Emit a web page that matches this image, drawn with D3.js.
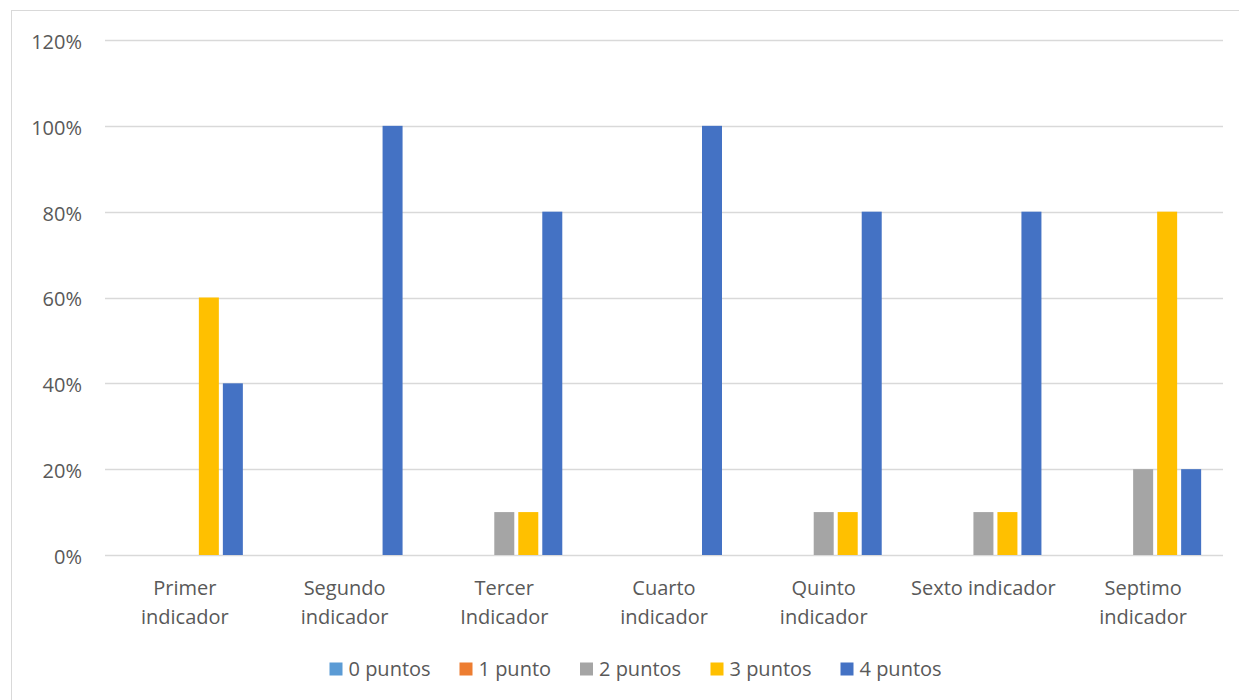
<!DOCTYPE html>
<html>
<head>
<meta charset="utf-8">
<script src="https://cdnjs.cloudflare.com/ajax/libs/d3/7.8.5/d3.min.js"></script>
<style>
  html, body { margin: 0; padding: 0; background: #fff; }
  svg { display: block; }
  text { font-family: "Open Sans", "Noto Sans", sans-serif; fill: #595959; }
</style>
</head>
<body>
<div id="chart"></div>
<script>
// Indicator categories (two-line labels split on "\n")
const categories = [
  "Primer\nindicador",
  "Segundo\nindicador",
  "Tercer\nIndicador",
  "Cuarto\nindicador",
  "Quinto\nindicador",
  "Sexto indicador",
  "Septimo\nindicador"
];

// Series names and their share of each indicator (fractions)
const seriesNames = ["0 puntos", "1 punto", "2 puntos", "3 puntos", "4 puntos"];
const puntos0 = [0, 0, 0, 0, 0, 0, 0];
const puntos1 = [0, 0, 0, 0, 0, 0, 0];
const puntos2 = [0, 0, 0.10, 0, 0.10, 0.10, 0.20];
const puntos3 = [0.60, 0, 0.10, 0, 0.10, 0.10, 0.80];
const puntos4 = [0.40, 1.00, 0.80, 1.00, 0.80, 0.80, 0.20];
const seriesValues = [puntos0, puntos1, puntos2, puntos3, puntos4];
const seriesColors = ["#5B9BD5", "#ED7D31", "#A5A5A5", "#FFC000", "#4472C4"];

const yTicks = [0, 0.2, 0.4, 0.6, 0.8, 1.0, 1.2];

const W = 1239, H = 700;
const plot = { left: 105, right: 1223, top: 40, bottom: 555 };
const fontSize = "20px";

const svg = d3.select("#chart").append("svg")
  .attr("width", W).attr("height", H);

// Chart frame
svg.append("rect")
  .attr("x", 11.5).attr("y", 10.5)
  .attr("width", W + 10).attr("height", H + 10)
  .attr("fill", "#fff").attr("stroke", "#D9D9D9").attr("stroke-width", 1);

const x0 = d3.scaleBand()
  .domain(categories)
  .range([plot.left, plot.right])
  .paddingInner(0).paddingOuter(0);

const groupWidth = 120;
const x1 = d3.scaleBand()
  .domain(seriesNames)
  .range([-groupWidth / 2, groupWidth / 2])
  .paddingInner(1 / 6).paddingOuter(1 / 12);

const y = d3.scaleLinear().domain([0, 1.2]).range([plot.bottom, plot.top]);

// Horizontal gridlines
svg.append("g")
  .selectAll("line")
  .data(yTicks)
  .join("line")
  .attr("x1", plot.left).attr("x2", plot.right)
  .attr("y1", d => Math.round(y(d)) + 0.5).attr("y2", d => Math.round(y(d)) + 0.5)
  .attr("stroke", "#D9D9D9").attr("stroke-width", 1.3);

// Y axis labels
const yAxis = d3.axisLeft(y)
  .tickValues(yTicks)
  .tickFormat(d3.format(".0%"))
  .tickSize(0).tickPadding(0);
const yG = svg.append("g")
  .attr("transform", `translate(82,0)`)
  .call(yAxis);
yG.select(".domain").remove();
yG.selectAll("text")
  .style("font-family", "'Open Sans', 'Noto Sans', sans-serif")
  .style("font-size", fontSize)
  .attr("dy", "0.42em")
  .attr("fill", "#595959");

// Bars
const groups = svg.append("g")
  .selectAll("g")
  .data(categories)
  .join("g")
  .attr("transform", d => `translate(${x0(d) + x0.bandwidth() / 2},0)`);

groups.selectAll("rect")
  .data((d, i) => seriesNames.map((s, k) => ({ s, v: seriesValues[k][i], c: seriesColors[k] })))
  .join("rect")
  .attr("x", d => x1(d.s))
  .attr("width", x1.bandwidth())
  .attr("y", d => y(d.v))
  .attr("height", d => y(0) - y(d.v))
  .attr("fill", d => d.c);

// Category labels
const xLabels = svg.append("g")
  .selectAll("text")
  .data(categories)
  .join("text")
  .attr("x", d => x0(d) + x0.bandwidth() / 2)
  .attr("y", 595)
  .attr("text-anchor", "middle")
  .style("font-size", fontSize);
xLabels.selectAll("tspan")
  .data(d => d.split("\n"))
  .join("tspan")
  .attr("x", function () { return d3.select(this.parentNode).attr("x"); })
  .attr("dy", (d, i) => i === 0 ? 0 : 28.5)
  .text(d => d);

// Legend
const legendX = [329.5, 459.5, 580, 710.5, 840.5];
const legend = svg.append("g")
  .selectAll("g")
  .data(seriesNames)
  .join("g")
  .attr("transform", (d, i) => `translate(${legendX[i]},662.5)`);
legend.append("rect")
  .attr("width", 13).attr("height", 13)
  .attr("fill", (d, i) => seriesColors[i]);
legend.append("text")
  .attr("x", 19).attr("y", 13.5)
  .style("font-size", fontSize)
  .text(d => d);
</script>
</body>
</html>
